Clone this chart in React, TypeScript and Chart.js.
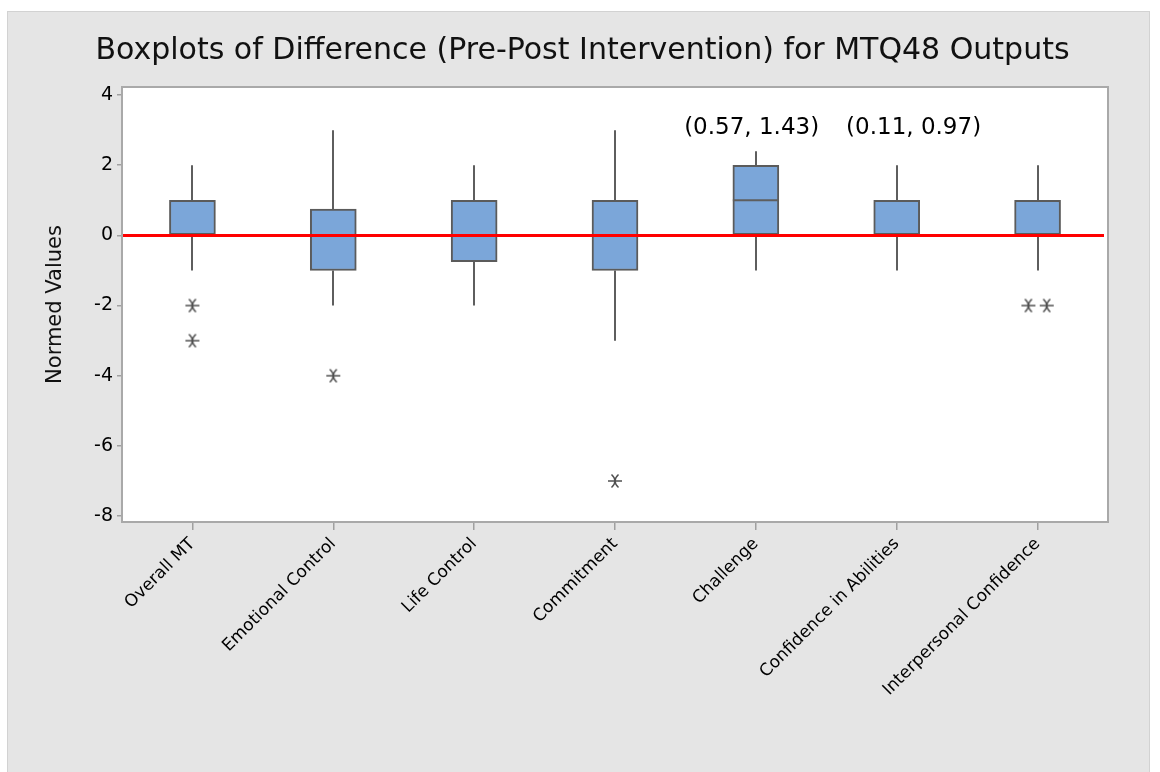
import React, { useEffect, useRef } from "react";
import { Chart, registerables } from "chart.js";

Chart.register(...registerables);

// ---- data ----
const categories = [
  "Overall MT",
  "Emotional Control",
  "Life Control",
  "Commitment",
  "Challenge",
  "Confidence in Abilities",
  "Interpersonal Confidence",
];
const whiskerLow = [-1, -2, -2, -3, -1, -1, -1];
const quartile1 = [0, -1, -0.75, -1, 0, 0, 0];
const medians = [0, 0, 0, 0, 1, 0, 0];
const quartile3 = [1, 0.75, 1, 1, 2, 1, 1];
const whiskerHigh = [2, 3, 2, 3, 2.4, 2, 2];

// outliers: category position (index, small jitter for ties) and value
const outlierPos = [0, 0, 1, 3, 5.935, 6.065];
const outlierVal = [-2, -3, -4, -7, -2, -2];

const yTicks = [-8, -6, -4, -2, 0, 2, 4];
const yMin = -8.17;
const yMax = 4.23;
const referenceValue = 0;

const annotationText = ["(0.57, 1.43)", "(0.11, 0.97)"];
const annotationPos = [3.97, 5.12];
const annotationVal = [3.05, 3.05];

const titleText = "Boxplots of Difference (Pre-Post Intervention) for MTQ48 Outputs";
const yTitle = "Normed Values";

function makeAsterisk(): HTMLCanvasElement {
  const c = document.createElement("canvas");
  c.width = 16;
  c.height = 16;
  const g = c.getContext("2d")!;
  g.strokeStyle = "#505050";
  g.lineWidth = 1.5;
  g.beginPath();
  g.moveTo(1, 8);
  g.lineTo(15, 8);
  g.moveTo(4.5, 1.5);
  g.quadraticCurveTo(11.5, 8, 4.5, 14.5);
  g.moveTo(11.5, 1.5);
  g.quadraticCurveTo(4.5, 8, 11.5, 14.5);
  g.stroke();
  return c;
}

const boxExtras = {
  id: "boxExtras",
  beforeDraw(chart: any) {
    const { ctx, chartArea: a } = chart;
    ctx.save();
    ctx.fillStyle = "#ffffff";
    ctx.fillRect(a.left, a.top, a.right - a.left, a.bottom - a.top);
    ctx.restore();
  },
  beforeDatasetsDraw(chart: any) {
    const { ctx } = chart;
    const x = chart.scales.x;
    const y = chart.scales.y;
    ctx.save();
    ctx.strokeStyle = "#5e5e5e";
    ctx.lineWidth = 2;
    categories.forEach((_, i) => {
      const px = Math.round(x.getPixelForValue(i));
      ctx.beginPath();
      ctx.moveTo(px, y.getPixelForValue(quartile3[i]));
      ctx.lineTo(px, y.getPixelForValue(whiskerHigh[i]));
      ctx.moveTo(px, y.getPixelForValue(quartile1[i]));
      ctx.lineTo(px, y.getPixelForValue(whiskerLow[i]));
      ctx.stroke();
    });
    ctx.restore();
  },
  afterDatasetsDraw(chart: any) {
    const { ctx, chartArea: a } = chart;
    const x = chart.scales.x;
    const y = chart.scales.y;
    const xp = chart.scales.xPos;
    const meta = chart.getDatasetMeta(0);
    ctx.save();
    // medians
    ctx.strokeStyle = "#5e5e5e";
    ctx.lineWidth = 2;
    categories.forEach((_, i) => {
      const bar: any = meta.data[i];
      const px = bar ? bar.x : x.getPixelForValue(i);
      const w = bar ? bar.width : 46;
      const py = y.getPixelForValue(medians[i]);
      ctx.beginPath();
      ctx.moveTo(px - w / 2, py);
      ctx.lineTo(px + w / 2, py);
      ctx.stroke();
    });
    // reference line
    const ry = y.getPixelForValue(referenceValue);
    ctx.strokeStyle = "#ff0000";
    ctx.lineWidth = 3;
    ctx.beginPath();
    ctx.moveTo(a.left, ry);
    ctx.lineTo(a.right - 4, ry);
    ctx.stroke();
    // annotations
    ctx.fillStyle = "#000000";
    ctx.font = "23px 'DejaVu Sans'";
    ctx.textAlign = "center";
    ctx.textBaseline = "middle";
    annotationText.forEach((t, i) => {
      ctx.fillText(t, xp.getPixelForValue(annotationPos[i]), y.getPixelForValue(annotationVal[i]));
    });
    // plot border
    ctx.strokeStyle = "#a9a9a9";
    ctx.lineWidth = 2;
    ctx.strokeRect(a.left, a.top, a.right - a.left, a.bottom - a.top);
    ctx.restore();
  },
};

export default function App() {
  const ref = useRef<HTMLCanvasElement>(null);
  useEffect(() => {
    if (!ref.current) return;
    const star = makeAsterisk();
    const chart = new Chart(ref.current, {
      type: "bar",
      data: {
        labels: categories,
        datasets: [
          {
            type: "bar",
            label: "IQR",
            data: quartile1.map((v, i) => [v, quartile3[i]]) as any,
            backgroundColor: "#7ba6d9",
            borderColor: "#5b5b5b",
            borderWidth: 2,
            borderSkipped: false,
            barThickness: 46,
            grouped: false,
            xAxisID: "x",
            yAxisID: "y",
          } as any,
          {
            type: "scatter",
            label: "Outliers",
            data: outlierPos.map((p, i) => ({ x: p, y: outlierVal[i] })) as any,
            xAxisID: "xPos",
            yAxisID: "y",
            pointStyle: star as any,
            pointRadius: 7,
            showLine: false,
          } as any,
        ],
      },
      options: {
        animation: false,
        responsive: false,
        devicePixelRatio: 1,
        layout: { padding: { left: 5, right: 0, top: 0, bottom: 0 } },
        plugins: {
          legend: { display: false },
          tooltip: { enabled: false },
          title: {
            display: true,
            text: titleText,
            color: "#111111",
            font: { family: "'DejaVu Sans'", size: 30, weight: "normal" as any },
            padding: { top: 33, bottom: 18 },
          },
        },
        scales: {
          x: {
            type: "category",
            offset: true,
            grid: {
              display: true,
              drawOnChartArea: false,
              drawTicks: true,
              tickLength: 8,
              offset: false,
              color: "#a0a0a0",
              lineWidth: 1.5,
            },
            border: { display: false },
            ticks: {
              minRotation: 45,
              maxRotation: 45,
              autoSkip: false,
              color: "#000000",
              padding: 4,
              font: { family: "'DejaVu Sans'", size: 17 },
            },
            afterFit: (s: any) => {
              s.height = 250;
            },
          },
          xPos: {
            type: "linear",
            display: false,
            offset: false,
            grace: 0,
            min: -0.5,
            max: categories.length - 0.5,
          } as any,
          y: {
            type: "linear",
            min: yMin,
            max: yMax,
            afterBuildTicks: (s: any) => {
              s.ticks = yTicks.map((v) => ({ value: v }));
            },
            grid: {
              display: true,
              drawOnChartArea: false,
              drawTicks: true,
              tickLength: 5,
              color: "#a0a0a0",
              lineWidth: 1.5,
            },
            border: { display: false },
            ticks: {
              color: "#000000",
              padding: 4,
              font: { family: "'DejaVu Sans'", size: 19 },
            },
            title: {
              display: true,
              text: yTitle,
              color: "#111111",
              font: { family: "'DejaVu Sans'", size: 21 },
              padding: { top: 38, bottom: 0 },
            },
            afterFit: (s: any) => {
              s.width = 117;
            },
          },
          yRight: {
            type: "linear",
            position: "right",
            display: true,
            grid: { display: false },
            border: { display: false },
            ticks: { display: false },
            afterFit: (s: any) => {
              s.width = 52;
            },
          },
        },
      },
      plugins: [boxExtras],
    });
    return () => chart.destroy();
  }, []);

  return (
    <div style={{ position: "absolute", left: 0, top: 0, width: 1160, height: 772, overflow: "hidden", background: "#ffffff" }}>
      <div
        style={{
          position: "absolute",
          left: 7,
          top: 11,
          width: 1141,
          height: 761,
          background: "#e5e5e5",
          borderLeft: "1px solid #d2d2d2",
          borderTop: "1px solid #d2d2d2",
          borderRight: "1px solid #d2d2d2",
        }}
      />
      <canvas
        ref={ref}
        width={1160}
        height={772}
        style={{ position: "absolute", left: 0, top: 0, width: 1160, height: 772 }}
      />
    </div>
  );
}
